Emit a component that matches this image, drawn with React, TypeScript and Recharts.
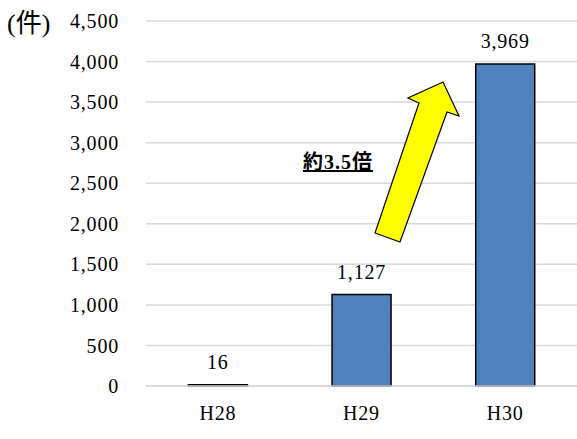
import React from 'react';
import { BarChart, Bar, XAxis, YAxis, CartesianGrid, LabelList } from 'recharts';

const years = ['H28', 'H29', 'H30'];
const cases = [16, 1127, 3969];
const yTicks = [0, 500, 1000, 1500, 2000, 2500, 3000, 3500, 4000, 4500];

const data = years.map((year, i) => ({ year, cases: cases[i] }));

const FONT = '"Liberation Serif", "DejaVu Serif", "Noto Sans CJK JP", serif';
const textStyle = { fill: '#000', fontSize: 20, fontFamily: FONT, letterSpacing: 0.8 };

const fmt = (v: number) => v.toLocaleString('en-US');

const App: React.FC = () => {
  return (
    <div style={{ position: 'absolute', left: 0, top: 0, width: 577, height: 439, background: '#fff', fontFamily: FONT }}>
      <BarChart
        width={577}
        height={439}
        data={data}
        margin={{ top: 21, right: 0, bottom: 0, left: 0 }}
        barCategoryGap="29.5%"
      >
        <CartesianGrid vertical={false} stroke="#D9D9D9" strokeWidth={1.5} />
        <XAxis
          dataKey="year"
          height={53}
          tickLine={false}
          axisLine={{ stroke: '#D9D9D9', strokeWidth: 1.5 }}
          tick={textStyle}
          tickMargin={14}
        />
        <YAxis
          width={146}
          domain={[0, 4500]}
          ticks={yTicks}
          tickFormatter={fmt}
          tickLine={false}
          axisLine={false}
          tickSize={0}
          tickMargin={27}
          tick={textStyle}
          interval={0}
        />
        <Bar dataKey="cases" fill="#4F81BD" stroke="#000" strokeWidth={1.5} isAnimationActive={false}>
          <LabelList
            dataKey="cases"
            position="top"
            offset={16}
            formatter={(v: any) => fmt(Number(v))}
            style={textStyle}
          />
        </Bar>
      </BarChart>
      <div style={{ position: 'absolute', left: 7, top: 2, fontSize: 26, color: '#000', fontFamily: FONT }}>(件)</div>
      <svg width={577} height={439} style={{ position: 'absolute', left: 0, top: 0, pointerEvents: 'none' }}>
        <polygon
          points="375,233 419,103 408,98 443,82 459,116 447,112 400,242"
          fill="#FFFF00"
          stroke="#000"
          strokeWidth={1.2}
        />
        <text
          x={338}
          y={169}
          textAnchor="middle"
          fontSize={20}
          letterSpacing={1}
          fontWeight="bold"
          textDecoration="underline"
          fill="#000"
          fontFamily={FONT}
        >
          約3.5倍
        </text>
      </svg>
    </div>
  );
};

export default App;
